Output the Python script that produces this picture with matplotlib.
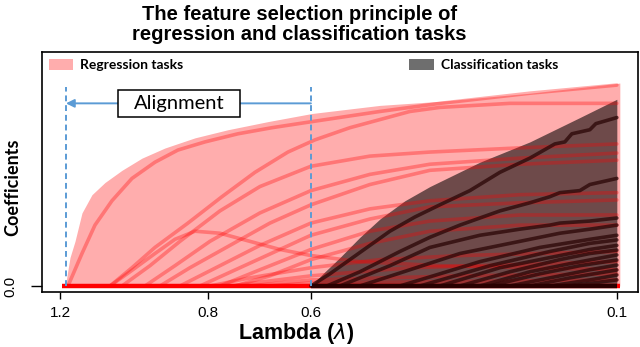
import matplotlib
matplotlib.use('Agg')
from matplotlib import pyplot as plt
from matplotlib.patches import Rectangle
import numpy as np

# x axis = step along the lambda path, ticks labelled with lambda
tick_steps = [0, 148, 251, 557]
tick_labels = ['1.2', '0.8', '0.6', '0.1']
align_steps = [6, 251]

# regression band (upper envelope)
reg_env_x = [2, 6, 8, 10, 15, 22, 32, 45, 62, 82, 105, 135, 168, 208, 252, 320, 380, 470, 560]
reg_env_y = [0, 0.02, 0.08, 0.14, 0.22, 0.36, 0.45, 0.51, 0.57, 0.63, 0.68, 0.73, 0.77, 0.81, 0.85, 0.89, 0.91, 0.95, 1.0]

# classification band (upper edge)
cls_env_x = [251, 265, 280, 300, 320, 345, 370, 420, 470, 520, 557]
cls_env_y = [0, 0.07, 0.14, 0.24, 0.33, 0.42, 0.49, 0.61, 0.71, 0.83, 0.92]

# regression coefficient paths
reg_paths = [
    ([8, 22, 35, 52, 72, 95, 118, 145, 178, 212, 252, 320, 380, 470, 557],
     [0, 0.16, 0.30, 0.42, 0.53, 0.61, 0.67, 0.71, 0.75, 0.78, 0.81, 0.86, 0.90, 0.95, 0.99]),
    ([50, 72, 95, 128, 162, 195, 228, 255, 290, 320, 350, 380, 450, 557],
     [0, 0.09, 0.19, 0.31, 0.44, 0.56, 0.66, 0.72, 0.78, 0.82, 0.86, 0.88, 0.90, 0.90]),
    ([62, 90, 120, 160, 200, 251, 310, 370, 457, 557], [0, 0.10, 0.22, 0.37, 0.49, 0.59, 0.64, 0.66, 0.68, 0.70]),
    ([85, 115, 150, 200, 251, 310, 370, 460, 557], [0, 0.10, 0.22, 0.36, 0.47, 0.55, 0.60, 0.63, 0.655]),
    ([100, 130, 170, 210, 251, 310, 370, 460, 557], [0, 0.09, 0.20, 0.31, 0.40, 0.50, 0.57, 0.60, 0.62]),
    ([120, 160, 200, 251, 310, 370, 460, 557], [0, 0.10, 0.20, 0.31, 0.38, 0.42, 0.45, 0.46]),
    ([140, 180, 220, 251, 310, 370, 460, 557], [0, 0.09, 0.18, 0.25, 0.33, 0.39, 0.41, 0.424]),
    ([160, 200, 251, 310, 370, 460, 557], [0, 0.08, 0.18, 0.27, 0.32, 0.35, 0.35]),
    ([175, 210, 251, 310, 370, 460, 557], [0, 0.05, 0.13, 0.21, 0.27, 0.30, 0.30]),
    ([50, 70, 95, 115, 135, 160, 190, 220, 251, 300, 380, 557],
     [0, 0.07, 0.16, 0.23, 0.27, 0.26, 0.22, 0.18, 0.15, 0.12, 0.10, 0.08]),
    ([150, 190, 251, 320, 400, 557], [0, 0.04, 0.09, 0.13, 0.15, 0.17]),
    ([170, 210, 251, 350, 557], [0, 0.025, 0.05, 0.09, 0.12]),
    ([190, 251, 400, 557], [0, 0.03, 0.05, 0.06]),
    ([210, 251, 557], [0, 0.015, 0.03]),
]

# classification coefficient paths
cls_paths = [
    ([251, 270, 290, 310, 330, 355, 380, 410, 440, 470, 495, 505, 512, 530, 536, 557],
     [0, 0.06, 0.13, 0.20, 0.27, 0.34, 0.40, 0.47, 0.56, 0.63, 0.70, 0.71, 0.75, 0.77, 0.80, 0.83]),
    ([267, 300, 340, 370, 400, 440, 470, 490, 500, 520, 530, 557],
     [0, 0.07, 0.17, 0.24, 0.30, 0.37, 0.41, 0.44, 0.46, 0.47, 0.50, 0.53]),
    ([280, 330, 370, 420, 460, 490, 500, 530, 557], [0, 0.10, 0.19, 0.25, 0.28, 0.30, 0.31, 0.32, 0.335]),
    ([300, 350, 400, 460, 500, 530, 557], [0, 0.08, 0.16, 0.22, 0.26, 0.28, 0.30]),
    ([340, 420, 480, 530, 557], [0, 0.12, 0.19, 0.23, 0.25]),
    ([360, 430, 490, 530, 557], [0, 0.10, 0.17, 0.21, 0.227]),
    ([380, 440, 500, 530, 557], [0, 0.09, 0.15, 0.18, 0.20]),
    ([400, 450, 500, 530, 557], [0, 0.07, 0.13, 0.16, 0.177]),
    ([420, 470, 510, 557], [0, 0.07, 0.11, 0.153]),
    ([430, 480, 520, 557], [0, 0.06, 0.10, 0.128]),
    ([450, 500, 530, 557], [0, 0.05, 0.08, 0.103]),
    ([470, 510, 557], [0, 0.04, 0.079]),
    ([490, 530, 557], [0, 0.03, 0.054]),
    ([510, 557], [0, 0.03]),
]

fig = plt.figure(figsize=(6.4, 3.47), dpi=100)
ax = fig.add_axes([0.0656, 0.1585, 0.931, 0.6916])

# bands
reg_band = ax.fill_between(reg_env_x, reg_env_y, 0, color='red', alpha=0.32, linewidth=0, label='Regression tasks')
for xs, ys in reg_paths:
    ax.plot(xs, ys, color='red', alpha=0.32, lw=2.6, solid_capstyle='round', solid_joinstyle='round')
ax.plot([2, 560], [0, 0], color='red', lw=3.2, solid_capstyle='butt')

cls_band = ax.fill_between(cls_env_x, cls_env_y, 0, color='black', alpha=0.57, linewidth=0, label='Classification tasks')
for xs, ys in cls_paths:
    ax.plot(xs, ys, color='#2a0505', alpha=0.75, lw=2.6, solid_capstyle='round', solid_joinstyle='round')
ax.plot([251, 557], [0, 0], color='#2a0000', lw=3.2, solid_capstyle='butt')

# alignment markers
for s in align_steps:
    ax.plot([s, s], [0, 0.98], color='#5b9bd5', lw=1.4, ls=(0, (3, 2)))
ax.annotate('', xy=(align_steps[0], 0.9), xytext=(align_steps[1], 0.9),
            arrowprops=dict(arrowstyle='-|>', color='#5b9bd5', lw=1.4, mutation_scale=12,
                            shrinkA=0, shrinkB=0))
ax.add_patch(Rectangle((58, 0.835), 122, 0.13, fc='white', ec='black', lw=1.1, zorder=5))
ax.text(119, 0.9, 'Alignment', ha='center', va='center', fontsize=14.5, family='Lato', zorder=6)

ax.set_xlim(-18, 578)
ax.set_ylim(-0.0296, 1.153)
ax.set_xticks(tick_steps)
ax.set_xticklabels(tick_labels, fontsize=11, family='Liberation Sans')
ax.set_yticks([0])
ax.set_yticklabels(['0.0'], fontsize=11, family='Liberation Sans', rotation=90, va='center')
ax.tick_params(axis='x', length=5, width=1, pad=5)
ax.tick_params(axis='y', length=8, width=1, pad=10)
for sp in ax.spines.values():
    sp.set_linewidth(1.2)

ax.set_xlabel('Lambda ($\\lambda$)', fontsize=15.5, fontweight='bold', family='Liberation Sans')
ax.xaxis.set_label_coords(0.426, -0.12)
ax.set_ylabel('Coefficients', fontsize=13, fontweight='bold', family='Lato')
ax.yaxis.set_label_coords(-0.035, 0.4375)

leg_prop = {'family': 'Lato', 'weight': 'bold', 'size': 10}
leg1 = ax.legend(handles=[reg_band], loc='upper left', frameon=False, prop=leg_prop,
                 handlelength=1.75, handleheight=0.8, borderaxespad=0.1, handletextpad=0.5)
ax.add_artist(leg1)
ax.legend(handles=[cls_band], loc='upper left', bbox_to_anchor=(0.605, 1.0), frameon=False, prop=leg_prop,
          handlelength=1.75, handleheight=0.8, borderaxespad=0.1, handletextpad=0.5)

fig.text(0.468, 0.985, 'The feature selection principle of\nregression and classification tasks',
         ha='center', va='top', fontsize=14.5, fontweight='bold', family='Liberation Sans',
         linespacing=1.05)

fig.savefig('out.png', dpi=100)
